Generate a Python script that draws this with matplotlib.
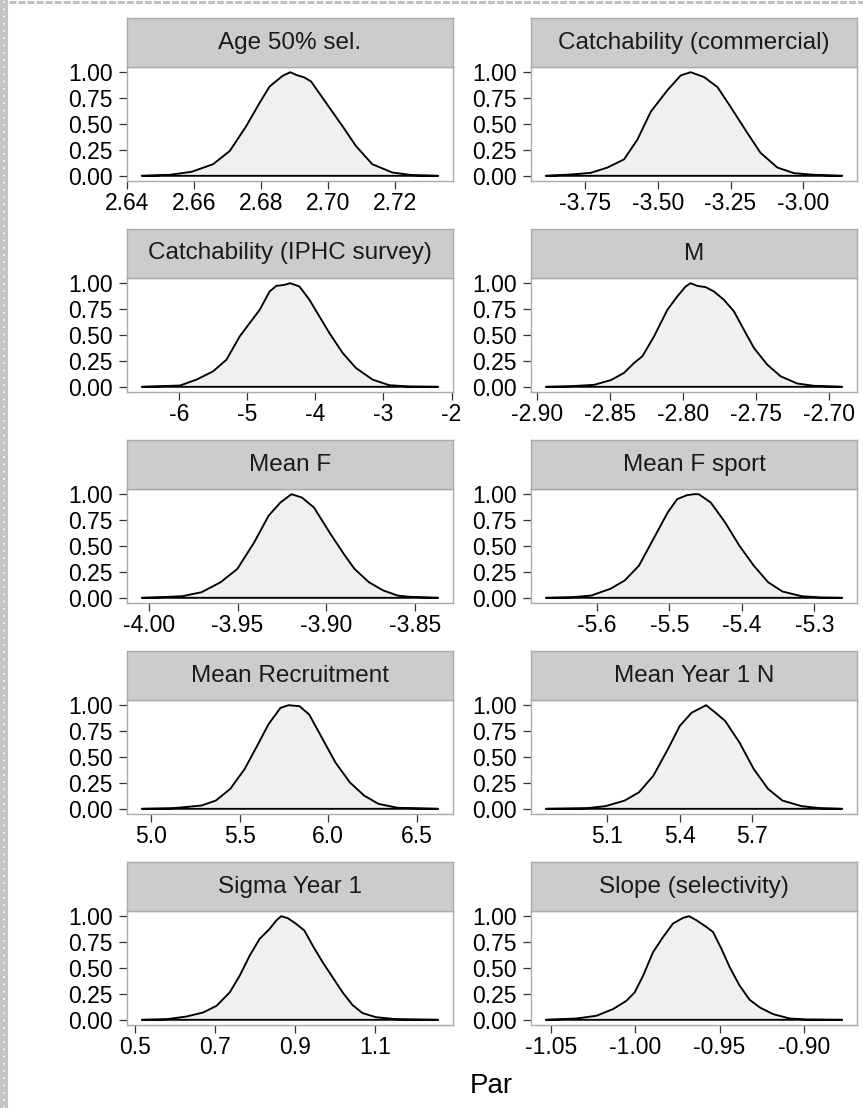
import numpy as np
import matplotlib
matplotlib.use("Agg")
import matplotlib.pyplot as plt
from matplotlib.lines import Line2D

plt.rcParams['font.family'] = ['Liberation Sans', 'DejaVu Sans']
plt.rcParams['lines.scale_dashes'] = False

# posterior densities (scaled to max 1), one facet per parameter
panel_names = ["Age 50% sel.", "Catchability (commercial)",
               "Catchability (IPHC survey)", "M",
               "Mean F", "Mean F sport",
               "Mean Recruitment", "Mean Year 1 N",
               "Sigma Year 1", "Slope (selectivity)"]

age50_x = [2.6443, 2.6527, 2.6592, 2.6656, 2.6706, 2.6755, 2.6795, 2.6825, 2.6864, 2.6887,
           2.6904, 2.6929, 2.6949, 2.6973, 2.7008, 2.7043, 2.7083, 2.7132, 2.7192, 2.7251, 2.7329]
age50_y = [0.0, 0.01, 0.039, 0.112, 0.24, 0.479, 0.703, 0.862, 0.965, 1.0,
           0.974, 0.949, 0.91, 0.80, 0.639, 0.479, 0.288, 0.112, 0.032, 0.007, 0.0]

qcomm_x = [-3.885, -3.799, -3.730, -3.673, -3.616, -3.570, -3.524, -3.467, -3.421, -3.387,
           -3.341, -3.295, -3.250, -3.192, -3.147, -3.089, -3.032, -2.964, -2.866]
qcomm_y = [0.0, 0.013, 0.029, 0.080, 0.159, 0.35, 0.619, 0.826, 0.969, 1.0,
           0.953, 0.857, 0.667, 0.413, 0.223, 0.080, 0.026, 0.01, 0.0]

qiphc_x = [-6.551, -6.282, -5.990, -5.746, -5.502, -5.307, -5.112, -4.966, -4.819, -4.673,
           -4.575, -4.454, -4.371, -4.234, -4.088, -3.941, -3.795, -3.600, -3.405, -3.161,
           -2.917, -2.625, -2.196]
qiphc_y = [0.0, 0.006, 0.0125, 0.070, 0.150, 0.262, 0.487, 0.615, 0.743, 0.920,
           0.974, 0.984, 1.0, 0.968, 0.840, 0.679, 0.519, 0.327, 0.182, 0.070,
           0.016, 0.003, 0.0]

m_x = [-2.8938, -2.8767, -2.8608, -2.8494, -2.8403, -2.8334, -2.8277, -2.8197, -2.8106, -2.8038,
       -2.7981, -2.7947, -2.7901, -2.7844, -2.7787, -2.7719, -2.7650, -2.7582, -2.7513, -2.7422,
       -2.7331, -2.7217, -2.7103, -2.6909]
m_y = [0.0, 0.006, 0.019, 0.064, 0.134, 0.23, 0.295, 0.487, 0.743, 0.872,
       0.968, 1.0, 0.974, 0.962, 0.920, 0.840, 0.728, 0.551, 0.375, 0.214,
       0.102, 0.032, 0.01, 0.0]

meanf_x = [-4.0040, -3.9933, -3.9811, -3.9703, -3.9595, -3.9501, -3.9406, -3.9325, -3.9258, -3.9196,
           -3.9137, -3.9069, -3.8975, -3.8894, -3.8840, -3.8759, -3.8678, -3.8597, -3.8529, -3.8368]
meanf_y = [0.0, 0.006, 0.016, 0.054, 0.151, 0.279, 0.535, 0.792, 0.920, 1.0,
           0.968, 0.872, 0.615, 0.407, 0.279, 0.151, 0.071, 0.022, 0.01, 0.0]

fsport_x = [-5.6705, -5.6343, -5.6079, -5.5815, -5.5618, -5.5420, -5.5222, -5.5024, -5.4893, -5.4761,
            -5.4662, -5.4596, -5.4431, -5.4233, -5.4036, -5.3838, -5.3640, -5.3442, -5.3179, -5.2915,
            -5.2618]
fsport_y = [0.0, 0.006, 0.022, 0.087, 0.167, 0.311, 0.567, 0.824, 0.952, 0.990,
            1.0, 1.0, 0.920, 0.728, 0.503, 0.311, 0.151, 0.061, 0.016, 0.003,
            0.0]

recr_x = [4.946, 5.122, 5.284, 5.365, 5.446, 5.527, 5.608, 5.662, 5.730, 5.776,
          5.838, 5.892, 5.959, 6.041, 6.122, 6.203, 6.284, 6.392, 6.622]
recr_y = [0.0, 0.006, 0.032, 0.080, 0.192, 0.383, 0.639, 0.815, 0.974, 1.0,
          0.990, 0.911, 0.703, 0.447, 0.256, 0.128, 0.048, 0.01, 0.0]

n1_x = [4.847, 5.015, 5.094, 5.173, 5.232, 5.291, 5.351, 5.400, 5.449, 5.509,
        5.548, 5.588, 5.647, 5.706, 5.765, 5.824, 5.903, 5.982, 6.071]
n1_y = [0.0, 0.006, 0.026, 0.080, 0.160, 0.319, 0.575, 0.799, 0.927, 1.0,
        0.927, 0.847, 0.639, 0.383, 0.192, 0.080, 0.026, 0.006, 0.0]

sigma_x = [0.5166, 0.5789, 0.6286, 0.6701, 0.7033, 0.7365, 0.7614, 0.7863, 0.8112, 0.8361,
           0.8527, 0.8651, 0.8817, 0.9025, 0.9232, 0.944, 0.9689, 0.9938, 1.0187, 1.0436,
           1.0685, 1.1017, 1.1515, 1.2577]
sigma_y = [0.0, 0.006, 0.032, 0.071, 0.135, 0.265, 0.426, 0.619, 0.781, 0.877,
           0.958, 1.0, 0.981, 0.926, 0.861, 0.716, 0.555, 0.410, 0.265, 0.142,
           0.065, 0.026, 0.006, 0.0]

slope_x = [-1.0530, -1.0348, -1.0230, -1.0131, -1.0052, -1.0003, -0.9953, -0.9894, -0.9835, -0.9776,
           -0.9716, -0.9681, -0.9637, -0.9578, -0.9539, -0.9489, -0.9440, -0.9381, -0.9322, -0.9262,
           -0.9183, -0.9085, -0.8986, -0.8773]
slope_y = [0.0, 0.013, 0.039, 0.104, 0.184, 0.265, 0.427, 0.654, 0.799, 0.929,
           0.984, 1.0, 0.961, 0.896, 0.848, 0.686, 0.508, 0.330, 0.194, 0.120,
           0.055, 0.013, 0.003, 0.0]

x_ticks = [
    ["2.64", "2.66", "2.68", "2.70", "2.72"],
    ["-3.75", "-3.50", "-3.25", "-3.00"],
    ["-6", "-5", "-4", "-3", "-2"],
    ["-2.90", "-2.85", "-2.80", "-2.75", "-2.70"],
    ["-4.00", "-3.95", "-3.90", "-3.85"],
    ["-5.6", "-5.5", "-5.4", "-5.3"],
    ["5.0", "5.5", "6.0", "6.5"],
    ["5.1", "5.4", "5.7"],
    ["0.5", "0.7", "0.9", "1.1"],
    ["-1.05", "-1.00", "-0.95", "-0.90"],
]
y_ticks = [0.0, 0.25, 0.5, 0.75, 1.0]
y_labels = ["0.00", "0.25", "0.50", "0.75", "1.00"]

curves = [(age50_x, age50_y), (qcomm_x, qcomm_y), (qiphc_x, qiphc_y), (m_x, m_y),
          (meanf_x, meanf_y), (fsport_x, fsport_y), (recr_x, recr_y), (n1_x, n1_y),
          (sigma_x, sigma_y), (slope_x, slope_y)]

W, H = 863, 1108
fig = plt.figure(figsize=(W / 100, H / 100), dpi=100)

border = "#ABABAB"
col_left = [127, 531]
panel_w, panel_h, strip_h = 326, 114, 49

for i, (name, (xs, ys), ticks) in enumerate(zip(panel_names, curves, x_ticks)):
    row, col = divmod(i, 2)
    top = 67 + 211 * row
    left = col_left[col]
    ax = fig.add_axes([left / W, 1 - (top + panel_h) / H, panel_w / W, panel_h / H])
    ax.fill(xs, ys, facecolor="#F0F0F0", edgecolor="black", lw=1.35, joinstyle="round")

    lo, hi = min(xs), max(xs)
    pad = 0.05 * (hi - lo)
    ax.set_xlim(lo - pad, hi + pad)
    ax.set_ylim(-0.05, 1.05)
    ax.set_xticks([float(t) for t in ticks], ticks)
    ax.set_yticks(y_ticks, y_labels)
    ax.tick_params(axis="both", direction="out", length=5.5, width=0.9,
                   color="#333333", labelsize=16.5, labelcolor="black")
    ax.tick_params(axis="x", pad=2.5)
    ax.tick_params(axis="y", pad=5)
    for sp in ax.spines.values():
        sp.set_color(border)
        sp.set_linewidth(1.0)

    # facet strip on top of the panel
    sax = fig.add_axes([left / W, 1 - (top) / H, panel_w / W, strip_h / H])
    sax.set_facecolor("#CCCCCC")
    sax.set_xticks([])
    sax.set_yticks([])
    for sp in sax.spines.values():
        sp.set_color(border)
        sp.set_linewidth(1.0)
    sax.text(0.5, 0.5, name, transform=sax.transAxes, ha="center", va="center",
             fontsize=17.5, color="#1A1A1A")

fig.text(491 / W, 1 - 1093 / H, "Par", ha="center", va="baseline", fontsize=20)

# dashed frame along the top and left edges
top_line = Line2D([0, 1], [1 - 1.5 / H] * 2, transform=fig.transFigure,
                  color="#C0C0C0", lw=2.2)
top_line.set_dashes((5, 1.5))
fig.add_artist(top_line)
left_band = Line2D([4 / W] * 2, [0, 1], transform=fig.transFigure,
                   color="#C4C4C4", lw=5.8)
fig.add_artist(left_band)
left_dots = Line2D([4 / W] * 2, [0, 1], transform=fig.transFigure,
                   color="white", lw=1.2)
left_dots.set_dashes((1.2, 4))
fig.add_artist(left_dots)

fig.savefig("out.png", dpi=100)
